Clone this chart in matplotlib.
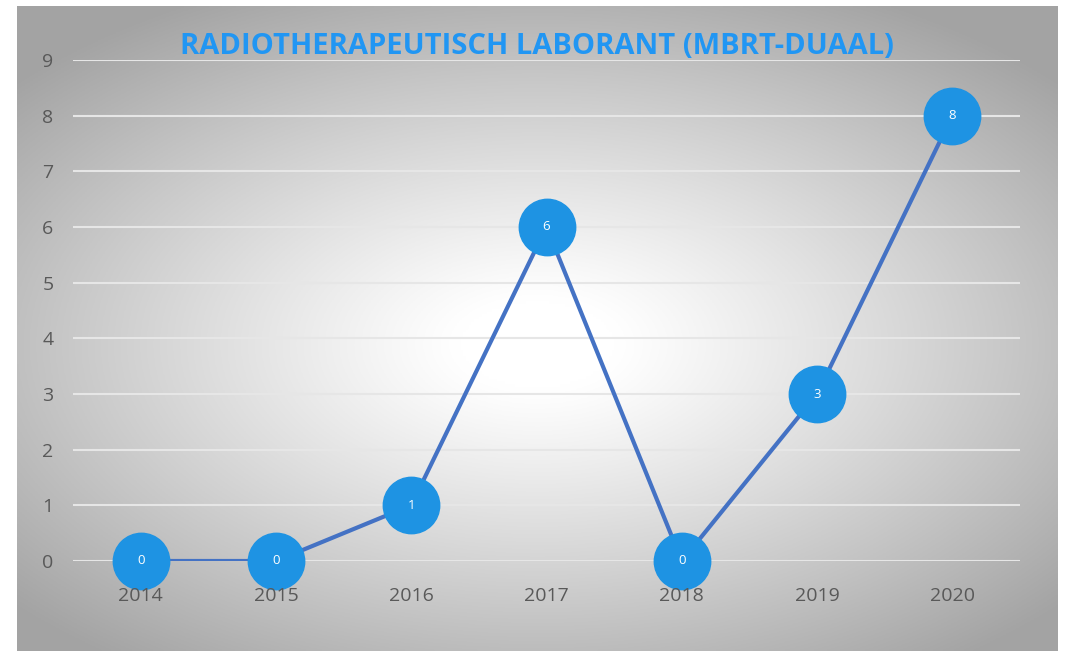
import numpy as np
import matplotlib.pyplot as plt
import matplotlib

matplotlib.rcParams['font.family'] = ['Open Sans', 'DejaVu Sans']

years = ['2014', '2015', '2016', '2017', '2018', '2019', '2020']
counts = [0, 0, 1, 6, 0, 3, 8]
title = 'RADIOTHERAPEUTISCH LABORANT (MBRT-DUAAL)'

W, H = 1065, 651
fig = plt.figure(figsize=(W / 100, H / 100), dpi=100)

# gray panel with a radial white glow
bg = fig.add_axes([17 / W, 0, (1058 - 17) / W, (651 - 6) / H])
gx, gy = np.meshgrid(np.linspace(-1, 1, 400), np.linspace(-1, 1, 250))
r = np.sqrt(gx ** 2 + ((gy + 0.05) * 1.1) ** 2)
r = np.clip((r - 0.15) / 1.2, 0, 1)
shade = 1.0 - 0.36 * r ** 1.1
img = np.dstack([shade, shade, shade])
bg.imshow(img, extent=[0, 1, 0, 1], aspect='auto', origin='lower')
bg.axis('off')

# plot area
x0, x1 = 73, 1020
y9, y0 = 60, 561
ax = fig.add_axes([x0 / W, 1 - y0 / H, (x1 - x0) / W, (y0 - y9) / H])
ax.patch.set_alpha(0)
xs = np.arange(len(years))
ax.set_xlim(-0.5, len(years) - 0.5)
ax.set_ylim(0, 9)
ax.set_yticks(range(10))
ax.set_xticks(xs)
ax.set_xticklabels(years)
ax.grid(axis='y', color='#e6e6e6', linewidth=1.5, zorder=0)
ax.tick_params(length=0, labelsize=14, colors='#595959', pad=14)
ax.tick_params(axis='x', pad=19)
ax.xaxis.set_zorder(6)
for s in ax.spines.values():
    s.set_visible(False)

ax.plot(xs, counts, color='#4472C4', linewidth=3, zorder=3)
ax.scatter(xs, counts, s=1650, color='#1E93E3', zorder=4, clip_on=False)
for xi, c in zip(xs, counts):
    ax.text(xi, c, str(c), color='white', ha='center', va='center', fontsize=9.5, zorder=5)

fig.text(537 / W, 1 - 46 / H, title, ha='center', va='center', fontsize=21,
         fontweight='bold', color='#2196F3')

fig.savefig('out.png', dpi=100)
